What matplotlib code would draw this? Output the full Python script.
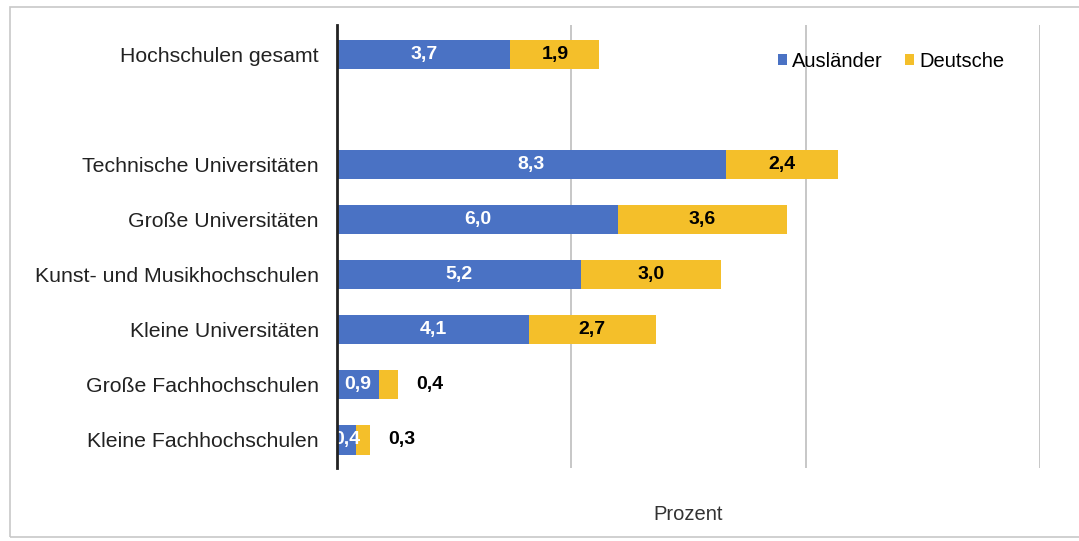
import matplotlib.pyplot as plt
from matplotlib.patches import Rectangle

plt.rcParams['font.family'] = ['Liberation Sans', 'DejaVu Sans']

categories = ["Hochschulen gesamt", "", "Technische Universitäten", "Große Universitäten",
              "Kunst- und Musikhochschulen", "Kleine Universitäten",
              "Große Fachhochschulen", "Kleine Fachhochschulen"]
auslaender = [3.7, None, 8.3, 6.0, 5.2, 4.1, 0.9, 0.4]
deutsche = [1.9, None, 2.4, 3.6, 3.0, 2.7, 0.4, 0.3]

blue = "#4A72C4"
gold = "#F4BF2A"

fig = plt.figure(figsize=(10.79, 5.41), dpi=100)
fig.patches.append(Rectangle((10 / 1079, 4 / 541), 1.0, 530 / 541, transform=fig.transFigure,
                             fill=False, edgecolor="#C8C8C8", linewidth=1.2))
ax = fig.add_axes([337 / 1079, 1 - 468 / 541, 703 / 1079, 443 / 541])

h = 0.53
for i, (a, d) in enumerate(zip(auslaender, deutsche)):
    if a is None:
        continue
    ax.barh(i, a, height=h, color=blue, label="Ausländer" if i == 0 else None, zorder=3)
    ax.barh(i, d, left=a, height=h, color=gold, label="Deutsche" if i == 0 else None, zorder=3)
    ax.text(a / 2, i, f"{a:.1f}".replace(".", ","), ha="center", va="center",
            color="white", fontsize=14, fontweight="bold", zorder=4)
    if d >= 1:
        ax.text(a + d / 2, i, f"{d:.1f}".replace(".", ","), ha="center", va="center",
                color="black", fontsize=14, fontweight="bold", zorder=4)
    else:
        ax.text(a + d + 0.4, i, f"{d:.1f}".replace(".", ","), ha="left", va="center",
                color="black", fontsize=14, fontweight="bold", zorder=4)

ax.set_xlim(0, 15)
ax.set_ylim(7.51, -0.53)
ax.set_yticks(range(len(categories)))
ax.set_yticklabels(categories, fontsize=15.3, color="#222222")
ax.tick_params(axis="y", length=0, pad=13)
ax.set_xticks([5, 10, 15])
ax.tick_params(axis="x", length=0, labelbottom=False)
ax.grid(axis="x", color="#BDBDBD", linewidth=1.2, zorder=0)
for s in ["top", "right", "bottom"]:
    ax.spines[s].set_visible(False)
ax.spines["left"].set_color("#222222")
ax.spines["left"].set_linewidth(2)
ax.spines["left"].set_zorder(5)

ax.set_xlabel("Prozent", fontsize=14.5, color="#333333", labelpad=27)

ax.legend(loc="upper right", bbox_to_anchor=(0.975, 0.98), ncol=2, frameon=False,
          fontsize=14.5, handlelength=0.45, handleheight=0.45, handletextpad=0.25,
          columnspacing=1.1)

fig.savefig("out.png", dpi=100)
